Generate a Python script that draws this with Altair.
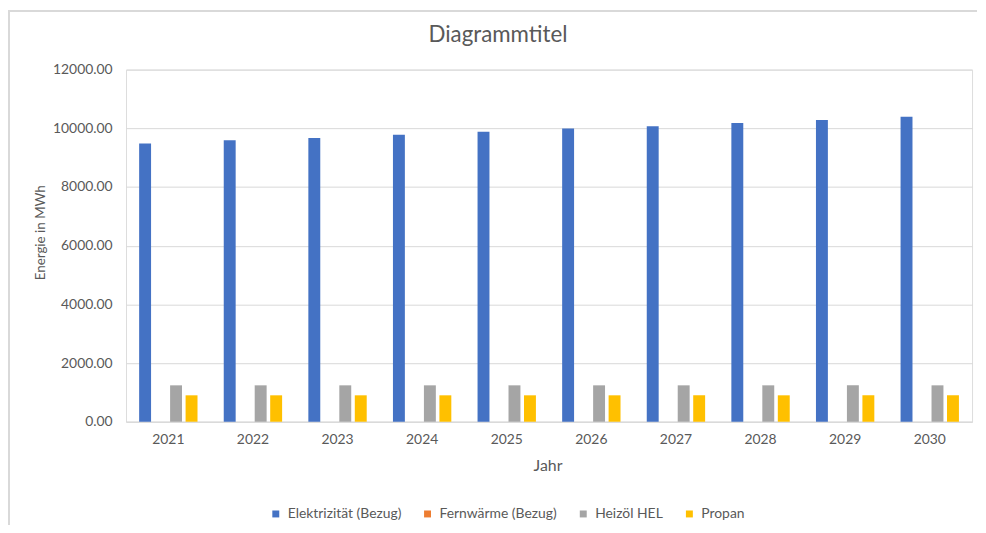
import altair as alt
import pandas as pd

years = ["2021", "2022", "2023", "2024", "2025", "2026", "2027", "2028", "2029", "2030"]
series = ["Elektrizität (Bezug)", "Fernwärme (Bezug)", "Heizöl HEL", "Propan"]
elektrizitaet = [9480, 9590, 9670, 9780, 9880, 9990, 10070, 10180, 10280, 10390]
fernwaerme = [0, 0, 0, 0, 0, 0, 0, 0, 0, 0]
heizoel = [1240, 1240, 1240, 1240, 1240, 1240, 1240, 1240, 1240, 1240]
propan = [900, 900, 900, 900, 900, 900, 900, 900, 900, 900]
colors = ["#4472C4", "#ED7D31", "#A5A5A5", "#FFC000"]
y_ticks = [0, 2000, 4000, 6000, 8000, 10000, 12000]
chart_title = "Diagrammtitel"

rows = []
for name, vals in zip(series, [elektrizitaet, fernwaerme, heizoel, propan]):
    for yr, v in zip(years, vals):
        rows.append({"Jahr": yr, "Serie": name, "Wert": v})
df = pd.DataFrame(rows)

FONT = "Lato"
TXT = "#595959"
GRID = "#d9d9d9"

bars = alt.Chart(df).mark_bar().encode(
    x=alt.X("Jahr:N", sort=years,
            scale=alt.Scale(paddingInner=0.268, paddingOuter=0.134),
            axis=alt.Axis(title="Jahr", labelAngle=0, ticks=False, grid=False,
                          domainColor=GRID, domainWidth=1,
                          labelPadding=11, labelFontSize=14, labelColor=TXT, labelFont=FONT,
                          titleFontSize=16, titleColor=TXT, titleFont=FONT, titleFontWeight="normal",
                          titleX=425, titleY=44, titleBaseline="middle", titleAlign="center")),
    xOffset=alt.XOffset("Serie:N", sort=series,
                        scale=alt.Scale(paddingInner=0.23, paddingOuter=0.115)),
    y=alt.Y("Wert:Q", scale=alt.Scale(domain=[0, 12000], nice=False),
            axis=alt.Axis(title="Energie in MWh", values=y_ticks, format=".2f",
                          domain=False, ticks=False, grid=True, gridColor=GRID, gridWidth=1,
                          labelPadding=14, labelFontSize=14, labelColor=TXT, labelFont=FONT,
                          titleFontSize=13.5, titleColor=TXT, titleFont=FONT, titleFontWeight="normal",
                          titleAngle=-90, titleX=-86, titleY=164,
                          titleBaseline="middle", titleAlign="center")),
    color=alt.Color("Serie:N", sort=series,
                    scale=alt.Scale(domain=series, range=colors),
                    legend=alt.Legend(title=None, orient="none", direction="horizontal",
                                      legendX=144, legendY=441,
                                      symbolType="square", symbolSize=49,
                                      symbolStrokeWidth=0,
                                      labelFontSize=14, labelColor=TXT, labelFont=FONT,
                                      labelOffset=5, columnPadding=19)),
)

title_mark = alt.Chart(pd.DataFrame({"t": [chart_title]})).mark_text(
    font=FONT, fontSize=22.5, color=TXT, align="center", baseline="middle", clip=False
).encode(text="t:N", x=alt.value(375), y=alt.value(-35))

left_border = alt.Chart(pd.DataFrame({"a": [0]})).mark_rule(color=GRID, strokeWidth=2, clip=False).encode(
    x=alt.value(-118), y=alt.value(-60), y2=alt.value(460))
top_border = alt.Chart(pd.DataFrame({"a": [0]})).mark_rule(color=GRID, strokeWidth=2, clip=False).encode(
    x=alt.value(-118), x2=alt.value(858), y=alt.value(-59))

chart = alt.layer(bars, title_mark, left_border, top_border).properties(
    width=853, height=355,
    autosize=alt.AutoSizeParams(type="none"),
    padding={"left": 119, "top": 60, "right": 6, "bottom": 102},
).configure_view(stroke=None).configure(background="white")

chart.save("out.html", embed_options={"renderer": "svg", "actions": False})
